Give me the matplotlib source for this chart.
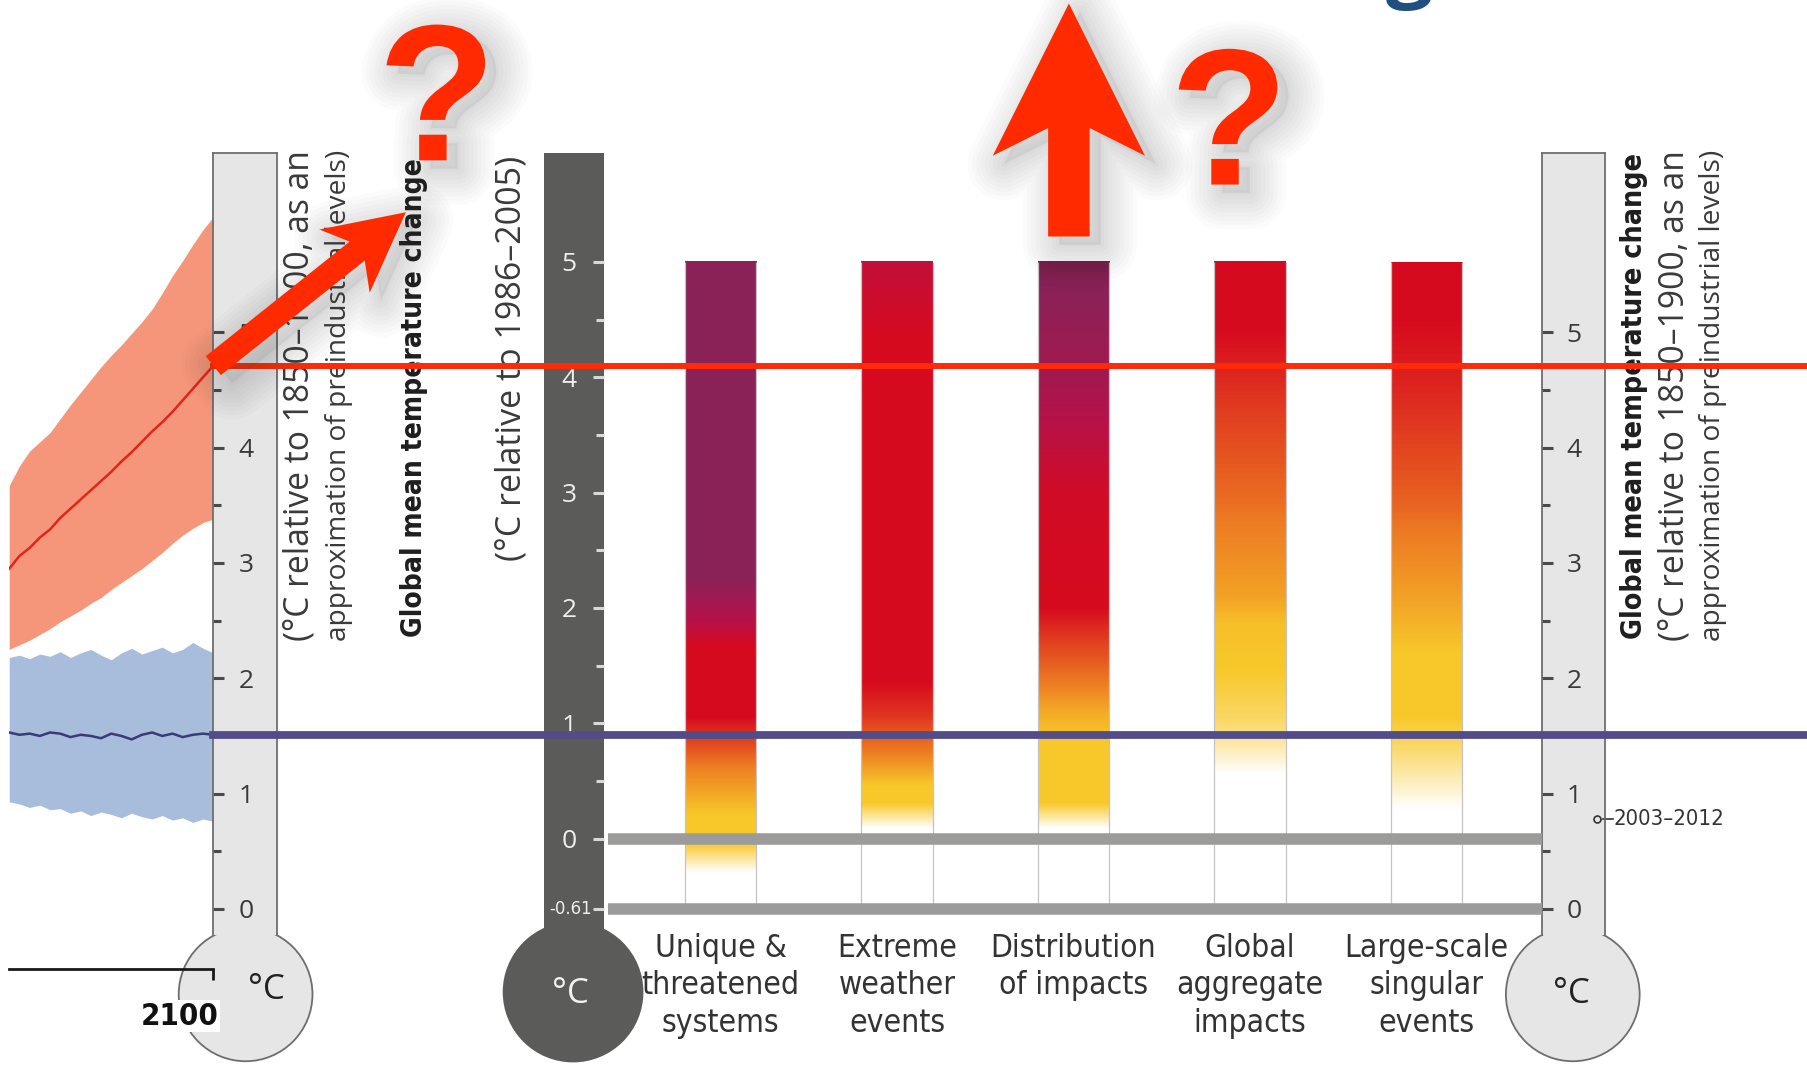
import numpy as np
import matplotlib
matplotlib.use("Agg")
import matplotlib.pyplot as plt
import matplotlib.patheffects as pe
from matplotlib import font_manager
from matplotlib.font_manager import FontProperties
from matplotlib.colors import LinearSegmentedColormap
from matplotlib.patches import Circle, Polygon
from matplotlib.transforms import blended_transform_factory as blend

installed = {f.name for f in font_manager.fontManager.ttflist}
SANS = "Open Sans" if "Open Sans" in installed else "DejaVu Sans"
ARIAL = "Liberation Sans" if "Liberation Sans" in installed else "DejaVu Sans"


def narrow_font(bold=False):
    # a condensed face if one is installed, otherwise Roboto (narrower than Open Sans)
    for f in font_manager.fontManager.ttflist:
        name = f.fname.lower()
        if ("condensed" in name or "narrow" in name) and f.style == "normal" \
                and ("bold" in name) == bold and "oblique" not in name and "italic" not in name \
                and "mono" not in name and "serif" not in name.replace("sans", ""):
            return FontProperties(fname=f.fname)
    fam = "Roboto" if "Roboto" in installed else SANS
    return FontProperties(family=fam, weight="bold" if bold else "normal")


NARROW = narrow_font()
NARROW_B = narrow_font(bold=True)

# ---------------- data ----------------
# projections, deg C relative to 1850-1900
years = [2060, 2062, 2064, 2066, 2068, 2070, 2072, 2074, 2076, 2078, 2080,
         2082, 2084, 2086, 2088, 2090, 2092, 2094, 2096, 2098, 2100]
rcp85_hi = [3.67, 3.84, 3.97, 4.05, 4.13, 4.25, 4.37, 4.48, 4.59, 4.70, 4.80,
            4.89, 4.99, 5.09, 5.20, 5.34, 5.49, 5.62, 5.76, 5.89, 6.00]
rcp85_lo = [2.25, 2.29, 2.33, 2.38, 2.43, 2.49, 2.54, 2.59, 2.65, 2.70, 2.77,
            2.83, 2.89, 2.95, 3.02, 3.09, 3.17, 3.24, 3.30, 3.35, 3.38]
rcp85_mean = [2.95, 3.06, 3.13, 3.22, 3.29, 3.39, 3.47, 3.55, 3.63, 3.71, 3.79,
              3.88, 3.96, 4.05, 4.14, 4.22, 4.31, 4.41, 4.51, 4.61, 4.71]
rcp26_hi = [2.18, 2.20, 2.17, 2.21, 2.19, 2.23, 2.18, 2.22, 2.25, 2.20, 2.16,
            2.22, 2.26, 2.21, 2.24, 2.27, 2.22, 2.25, 2.31, 2.26, 2.22]
rcp26_lo = [0.93, 0.91, 0.88, 0.90, 0.86, 0.87, 0.83, 0.85, 0.81, 0.84, 0.82,
            0.79, 0.83, 0.80, 0.78, 0.81, 0.77, 0.79, 0.75, 0.78, 0.76]
rcp26_mean = [1.53, 1.51, 1.52, 1.50, 1.53, 1.52, 1.49, 1.51, 1.50, 1.48, 1.52,
              1.50, 1.47, 1.51, 1.53, 1.50, 1.52, 1.49, 1.51, 1.52, 1.51]

BASE_OFFSET = 0.61      # 1986-2005 relative to 1850-1900
obs_2003_2012 = 0.78    # relative to 1850-1900

# reasons for concern (deg C relative to 1986-2005) -> risk level
# 0 undetectable, 1 moderate, 2 high, 3 very high
categories = ["Unique &\nthreatened\nsystems", "Extreme\nweather\nevents",
              "Distribution\nof impacts", "Global\naggregate\nimpacts",
              "Large-scale\nsingular\nevents"]
unique_t = [-0.30, -0.05, 0.20, 0.55, 0.80, 1.05, 1.65, 1.90, 2.25, 5.0]
unique_lv = [0, 1, 1, 1.4, 1.7, 2, 2, 2.5, 3, 3]
extreme_t = [0.08, 0.30, 0.45, 0.75, 1.05, 1.35, 4.3, 5.0]
extreme_lv = [0, 1, 1, 1.5, 1.8, 2, 2, 2.3]
distrib_t = [0.08, 0.30, 0.85, 1.10, 1.35, 1.75, 2.0, 3.0, 4.0, 5.0]
distrib_lv = [0, 1, 1, 1.2, 1.5, 1.8, 2, 2.1, 2.7, 3.1]
global_t = [0.55, 1.0, 1.45, 1.85, 2.1, 2.9, 3.8, 4.4, 5.0]
global_lv = [0, 0.7, 1, 1.05, 1.25, 1.55, 1.8, 2, 2]
large_t = [0.25, 0.70, 1.05, 1.60, 2.2, 2.9, 3.8, 4.5, 5.0]
large_lv = [0, 0.6, 1, 1, 1.3, 1.6, 1.85, 2, 2]
embers = [(unique_t, unique_lv), (extreme_t, extreme_lv), (distrib_t, distrib_lv),
          (global_t, global_lv), (large_t, large_lv)]

ember_cmap = LinearSegmentedColormap.from_list(
    "ember", [(0, "#ffffff"), (1 / 3.1, "#f8c82a"), (1.5 / 3.1, "#ed7a22"),
              (2 / 3.1, "#d70a1e"), (2.5 / 3.1, "#b5124a"), (3 / 3.1, "#8b2258"),
              (1, "#7a1d4c")])

# ---------------- layout helpers ----------------
W, H = 1568, 925                 # layout grid (reference pixels)
ZERO_PX, PX_PER_DEG = 788, 100.0  # 0 deg C (pre-industrial) and scale
PX2FIG = 1808 / W


def pre_lim(top, bottom):
    return ((ZERO_PX - bottom) / PX_PER_DEG, (ZERO_PX - top) / PX_PER_DEG)


def mid_lim(top, bottom):
    lo, hi = pre_lim(top, bottom)
    return lo - BASE_OFFSET, hi - BASE_OFFSET


def to_px(temp):
    return ZERO_PX - PX_PER_DEG * temp


fig = plt.figure(figsize=(18.08, 10.67), dpi=100)
renderer = fig.canvas.get_renderer()


def size_for(s, width, fp):
    # font size that makes string s about `width` reference pixels wide
    p = fp.copy()
    p.set_size(20)
    t = fig.text(0, 0, s, fontproperties=p)
    w = t.get_window_extent(renderer=renderer).width
    t.remove()
    return 20 * width * PX2FIG / w


def box(x0, y0, x1, y1, z):
    a = fig.add_axes([x0 / W, 1 - y1 / H, (x1 - x0) / W, (y1 - y0) / H])
    a.set_zorder(z)
    return a


shadow = [pe.SimpleLineShadow(offset=(8, -6), shadow_color="#3a3a3a", alpha=0.02,
                              linewidth=lw, joinstyle="round")
          for lw in (52, 46, 40, 34, 28, 22, 16, 10, 4)]
shadow += [pe.SimplePatchShadow(offset=(8, -6), shadow_rgbFace="#3a3a3a", alpha=0.08),
           pe.Normal()]

# background (bulbs, labels)
ax_bg = box(0, 0, W, H, 0)
ax_bg.set_xlim(0, W)
ax_bg.set_ylim(H, 0)
ax_bg.axis("off")
ax_bg.add_patch(Circle((213, 862), 58, fc="#e6e6e6", ec="#6e6e6e", lw=1.3))
ax_bg.add_patch(Circle((497, 860), 61, fc="#5b5b59", ec="none"))
ax_bg.add_patch(Circle((1364, 862), 58, fc="#e6e6e6", ec="#6e6e6e", lw=1.3))
ax_bg.text(231, 858, "°C", ha="center", va="center", fontsize=25, family=SANS, color="#222")
ax_bg.text(495, 862, "°C", ha="center", va="center", fontsize=25, family=SANS, color="#f2f2f2")
ax_bg.text(1363, 862, "°C", ha="center", va="center", fontsize=25, family=SANS, color="#222")

rot = []
for x, y, s, w, L in [
        (260, 343, "(°C relative to 1850–1900, as an", "normal", 425),
        (294, 343, "approximation of preindustrial levels)", "normal", 425),
        (359, 345, "Global mean temperature change", "bold", 414),
        (444, 311, "(°C relative to 1986–2005)", "normal", 351),
        (1452, 343, "(°C relative to 1850–1900, as an", "normal", 425),
        (1486, 343, "approximation of preindustrial levels)", "normal", 425),
        (1417, 343, "Global mean temperature change", "bold", 423)]:
    if w == "bold":
        fp = NARROW_B.copy()
        col = "#1e1e1e"
    else:
        fp = FontProperties(family=SANS)
        col = "#3a3a3a"
    fp.set_size(20)
    t = ax_bg.text(x, y, s, rotation=90, ha="center", va="center", fontproperties=fp,
                   color=col)
    rot.append((t, L))

# time series panel
ax_ts = box(8, 133, 185, 840, 1)
ax_ts.patch.set_visible(False)
ax_ts.set_xlim(2060, 2100)
ax_ts.set_ylim(*pre_lim(133, 840))
ax_ts.fill_between(years, rcp85_lo, rcp85_hi, color="#f5967a", lw=0)
ax_ts.fill_between(years, rcp26_lo, rcp26_hi, color="#a8bcdc", lw=0)
ax_ts.plot(years, rcp85_mean, color="#e3241c", lw=1.8)
ax_ts.plot(years, rcp26_mean, color="#3b3a78", lw=1.8)
for s in ["left", "right", "top"]:
    ax_ts.spines[s].set_visible(False)
ax_ts.spines["bottom"].set_linewidth(2.0)
ax_ts.spines["bottom"].set_color("#1a1a1a")
ax_ts.set_yticks([])
ax_ts.set_xticks([2100])
ax_ts.set_xticklabels([""])
ax_ts.tick_params(axis="x", direction="out", length=8, width=2, color="#1a1a1a")
fp2100 = NARROW_B.copy()
fp2100.set_size(min(30, size_for("2100", 68, NARROW_B)))
ax_ts.annotate("2100", xy=(2100, ax_ts.get_ylim()[0]), xytext=(4, -34),
               textcoords="offset points", ha="right", va="center", fontproperties=fp2100,
               color="#111", annotation_clip=False, bbox=dict(fc="white", ec="none", pad=1))


def light_tube(x0, x1):
    a = box(x0, 133, x1, 811, 2)
    a.set_facecolor("#e6e6e6")
    a.set_ylim(*pre_lim(133, 811))
    a.set_xticks([])
    for s in ["left", "right", "top"]:
        a.spines[s].set_color("#6e6e6e")
        a.spines[s].set_linewidth(1.3)
    a.spines["bottom"].set_visible(False)
    a.set_yticks([0, 1, 2, 3, 4, 5])
    a.set_yticks([0.5, 1.5, 2.5, 3.5, 4.5], minor=True)
    a.tick_params(axis="y", which="both", direction="in", width=2.2, color="#4a4a4a",
                  labelsize=19, labelcolor="#3a3a3a", pad=-18)
    a.tick_params(axis="y", which="major", length=8)
    a.tick_params(axis="y", which="minor", length=6)
    plt.setp(a.get_yticklabels(), ha="left", family=SANS)
    return a


ax_lt = light_tube(185, 240)
ax_rt = light_tube(1337, 1392)

tr = blend(ax_rt.transAxes, ax_rt.transData)
ax_rt.plot([0.88], [obs_2003_2012], "o", transform=tr, ms=5, mfc="none", mec="#333",
           mew=1.2, clip_on=False, zorder=5)
ax_rt.plot([0.97, 1.12], [obs_2003_2012] * 2, transform=tr, color="#333", lw=1.2,
           clip_on=False)
fp_obs = NARROW.copy()
fp_obs.set_size(min(18, size_for("2003–2012", 96, NARROW)))
ax_rt.text(1.13, obs_2003_2012, "2003–2012", transform=tr, ha="left", va="center",
           fontproperties=fp_obs, color="#333")

# middle (1986-2005) tube
ax_mt = box(472, 133, 524, 806, 2)
ax_mt.set_facecolor("#5b5b59")
for s in ax_mt.spines.values():
    s.set_visible(False)
ax_mt.set_ylim(*mid_lim(133, 806))
ax_mt.set_xticks([])
ax_mt.yaxis.tick_right()
ax_mt.set_yticks([-BASE_OFFSET, 0, 1, 2, 3, 4, 5])
ax_mt.set_yticklabels(["", "0", "1", "2", "3", "4", "5"])
ax_mt.set_yticks([0.5, 1.5, 2.5, 3.5, 4.5], minor=True)
ax_mt.tick_params(axis="y", which="both", direction="in", width=2.2, color="#d8d8d8",
                  labelsize=19, labelcolor="#eeeeee", pad=-20)
ax_mt.tick_params(axis="y", which="major", length=8)
ax_mt.tick_params(axis="y", which="minor", length=6)
plt.setp(ax_mt.get_yticklabels(), ha="right", family=SANS)
fp_off = NARROW.copy()
fp_off.set_size(min(18, size_for("-0.61", 37, NARROW)))
ax_mt.text(0.80, -BASE_OFFSET, "-0.61", transform=blend(ax_mt.transAxes, ax_mt.transData),
           ha="right", va="center", fontproperties=fp_off, color="#eeeeee")

# burning embers
ax_b = box(527, 133, 1337, 806, 2)
ax_b.patch.set_visible(False)
for s in ax_b.spines.values():
    s.set_visible(False)
bw = 0.405
for i, (t, lv) in enumerate(embers):
    tt = np.linspace(t[0], t[-1], 400)
    col = ember_cmap(np.interp(tt, t, lv) / 3.1)[:, None, :]
    ax_b.imshow(col, extent=[i - bw / 2, i + bw / 2, t[0], t[-1]], origin="lower",
                aspect="auto", interpolation="bilinear", zorder=1)
    ax_b.vlines([i - bw / 2, i + bw / 2], -BASE_OFFSET, t[-1], color="#c4c4c4", lw=0.9, zorder=2)
ax_b.axhline(0, color="#9b9b99", lw=8.3, zorder=3)
ax_b.axhline(-BASE_OFFSET, color="#9b9b99", lw=8.3, zorder=3)
ax_b.set_xlim(-0.64, 4.654)
ax_b.set_ylim(*mid_lim(133, 806))
ax_b.set_yticks([])
ax_b.set_xticks(range(len(categories)))
ax_b.set_xticklabels(categories)
cat_size = min(27, size_for("Distribution", 144, NARROW))
ax_b.tick_params(axis="x", length=0, pad=2, labelcolor="#333")
fp_cat = NARROW.copy()
fp_cat.set_size(cat_size)
for lbl in ax_b.get_xticklabels():
    lbl.set_fontproperties(fp_cat)
    lbl.set_linespacing(1.28)

# 2100 levels carried across
ax_ov = box(0, 0, W, H, 5)
ax_ov.patch.set_visible(False)
ax_ov.axis("off")
ax_ov.set_xlim(0, W)
ax_ov.set_ylim(*pre_lim(0, H))
x_start = ax_lt.get_position().x0
ax_ov.axhline(rcp85_mean[-1], xmin=x_start, xmax=1, color="#ff2a0a", lw=4.3)
ax_ov.axhline(rcp26_mean[-1], xmin=x_start, xmax=1, color="#524c88", lw=5.6)

# arrows and question marks
ax_top = box(0, 0, W, H, 6)
ax_top.patch.set_visible(False)
ax_top.axis("off")
ax_top.set_xlim(0, W)
ax_top.set_ylim(H, 0)


def arrow_pts(x0, y0, x1, y1, shaft, head_len, head_w, notch):
    d = np.array([x1 - x0, y1 - y0], float)
    u = d / np.hypot(*d)
    n = np.array([-u[1], u[0]])
    p0, tip = np.array([x0, y0], float), np.array([x1, y1], float)
    base = tip - u * head_len
    inner = base + u * notch
    return [p0 + n * shaft / 2, inner + n * shaft / 2, base + n * head_w, tip,
            base - n * head_w, inner - n * shaft / 2, p0 - n * shaft / 2]


red = "#ff2a00"
ax_top.add_patch(Polygon(arrow_pts(185, to_px(rcp85_mean[-1]), 352, 184, 21, 68, 35, 14),
                         closed=True, fc=red, ec="none", path_effects=shadow))
ax_top.add_patch(Polygon(arrow_pts(927, 205, 927, 3, 36, 132, 66, 24),
                         closed=True, fc=red, ec="none", path_effects=shadow))
ax_top.text(379, 139, "?", ha="center", va="baseline", fontsize=140, color=red,
            family=ARIAL, fontweight="bold", path_effects=shadow)
ax_top.text(1066, 160, "?", ha="center", va="baseline", fontsize=140, color=red,
            family=ARIAL, fontweight="bold", path_effects=shadow)
ax_top.text(1222, -8, "g", ha="center", va="baseline", fontsize=60, color="#1f4f7f",
            family=SANS, fontweight="bold", clip_on=False)

# fit rotated captions to their column length
for t, L in rot:
    span = t.get_window_extent(renderer=renderer).height
    t.set_fontsize(t.get_fontsize() * L * PX2FIG / span)

fig.savefig("out.png", dpi=100)
